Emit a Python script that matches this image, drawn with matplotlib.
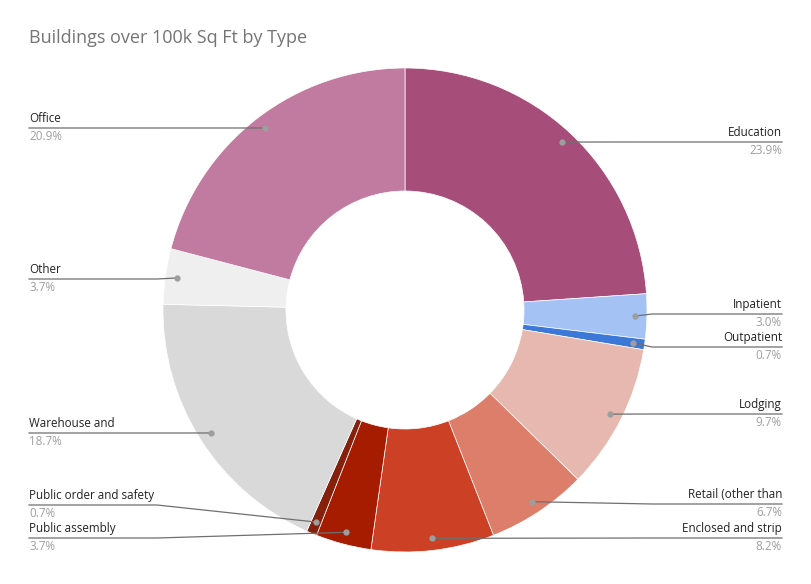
import numpy as np
import matplotlib.pyplot as plt

# data
categories = ["Education", "Inpatient", "Outpatient", "Lodging", "Retail (other than",
              "Enclosed and strip", "Public assembly", "Public order and safety",
              "Warehouse and", "Other", "Office"]
shares = [23.9, 3.0, 0.7, 9.7, 6.7, 8.2, 3.7, 0.7, 18.7, 3.7, 20.9]
colors = ["#a64d79", "#a4c2f4", "#3c78d8", "#e6b8af", "#dd7e6b", "#cc4125",
          "#a61c00", "#85200c", "#d9d9d9", "#efefef", "#c27ba0"]

# layout (pixels from top-left of the figure)
W, H = 811, 584
cx, cy = 405, 310
r_out, r_in = 242, 119
label_y = [142, 314, 347, 414, 504, 538, 538, 505, 433, 279, 128]
left_x, right_x = 29, 782
left_kink, right_kink = 157, 652

fig = plt.figure(figsize=(W / 100, H / 100), dpi=100)
ax = fig.add_axes([0, 0, 1, 1])

ax.pie(shares, colors=colors, startangle=90, counterclock=False,
       radius=r_out, center=(cx, H - cy),
       wedgeprops=dict(width=r_out - r_in, edgecolor="white", linewidth=0.5))
ax.set_xlim(0, W)
ax.set_ylim(0, H)
ax.set_aspect("equal")
ax.axis("off")

total = sum(shares)
cum = np.cumsum([0] + shares[:-1])
for i, name in enumerate(categories):
    mid = np.deg2rad(90 - 360 * (cum[i] + shares[i] / 2) / total)
    dx = cx + 0.95 * r_out * np.cos(mid)
    dy = H - cy + 0.95 * r_out * np.sin(mid)
    ly = H - label_y[i]
    if np.cos(mid) >= 0:
        xs = [dx, max(right_kink, dx), right_x]
        ha, tx = "right", right_x
    else:
        xs = [dx, min(left_kink, dx), left_x]
        ha, tx = "left", left_x
    ax.plot(xs, [dy, ly, ly], color="#6f6f6f", lw=0.9, zorder=5)
    ax.plot(dx, dy, "o", color="#9e9e9e", ms=3.5, zorder=6)
    ax.text(tx, ly + 3, name, ha=ha, va="bottom", fontsize=8.4,
            family="Open Sans", color="#222222")
    ax.text(tx, ly - 2, f"{shares[i]:.1f}%", ha=ha, va="top", fontsize=8.4,
            family="Open Sans", color="#9e9e9e")

ax.text(29, H - 38, "Buildings over 100k Sq Ft by Type", ha="left", va="center",
        fontsize=13, family="Open Sans", color="#757575")

fig.savefig("out.png", dpi=100)
